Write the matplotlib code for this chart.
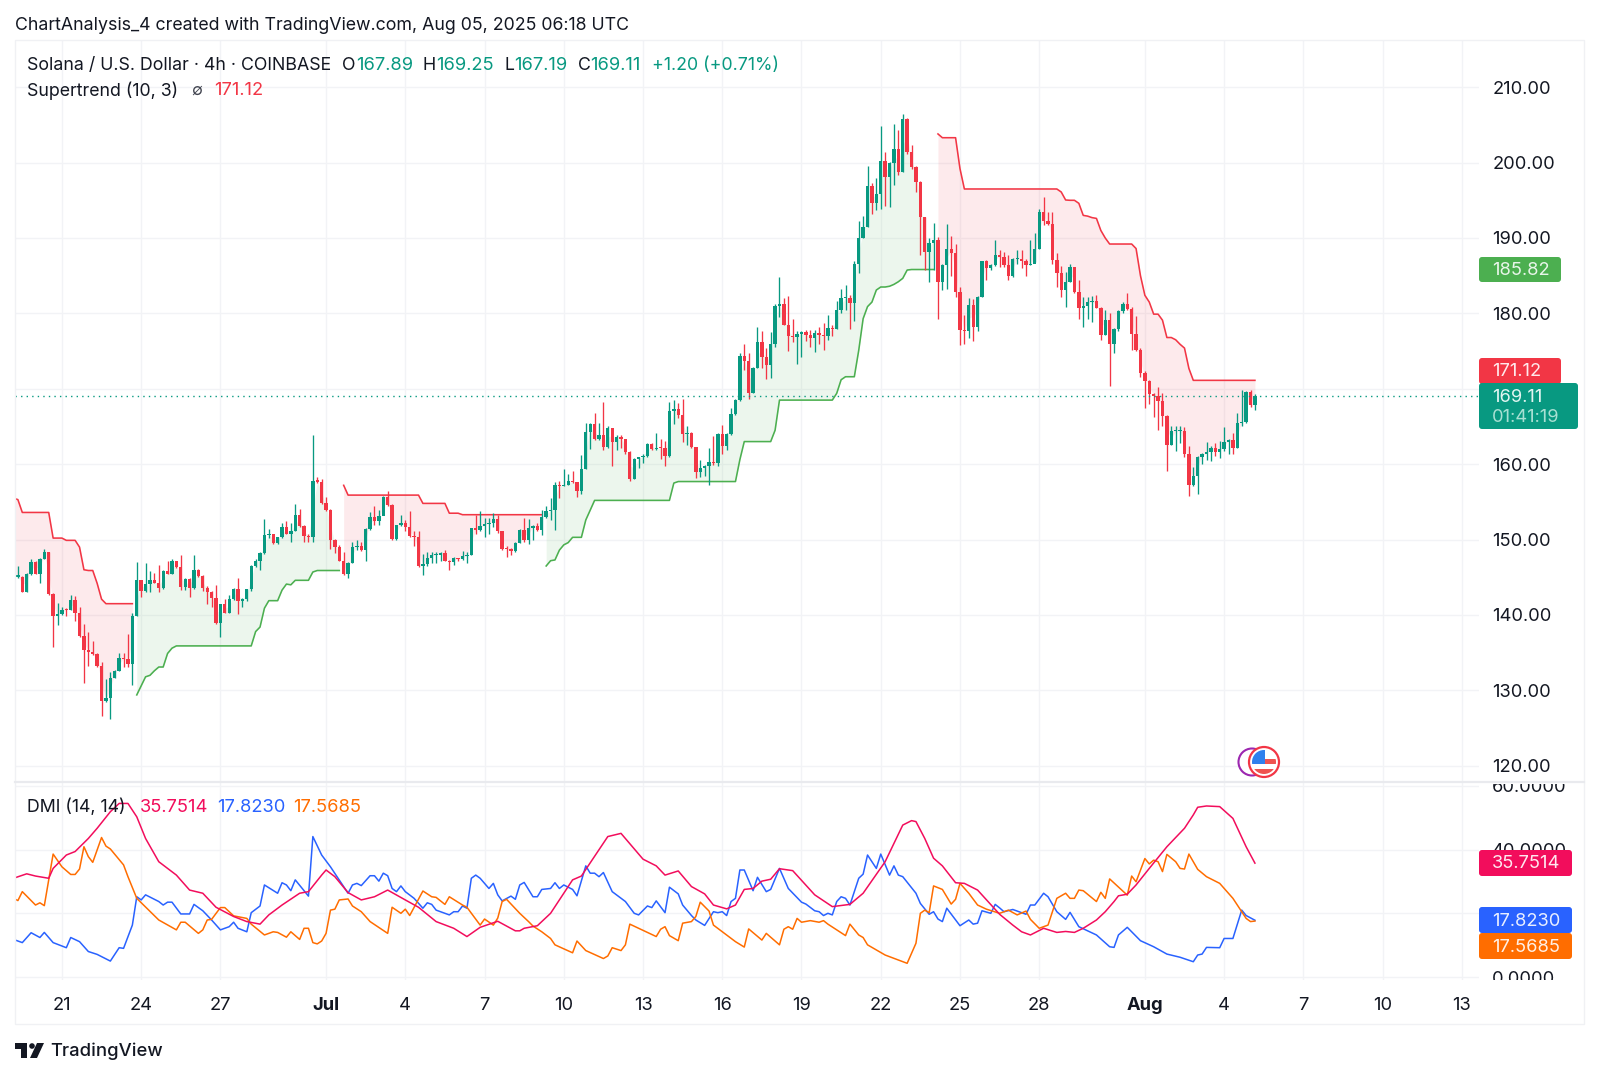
import matplotlib
matplotlib.use("Agg")
import matplotlib.pyplot as plt
from matplotlib.patches import Circle, Rectangle, FancyBboxPatch, Polygon
from matplotlib.transforms import Bbox

plt.rcParams['font.family'] = ['Inter', 'DejaVu Sans']

# ---------- candles (4h bars, bar 11 = 21 Jun 00:00) ----------
first_open = 145.0
closes = [
145.1,145.1,143.1,145.5,147.0,145.4,147.4,148.3,142.8,139.9,
140.1,140.7,140.6,142.0,140.3,137.2,135.4,135.1,134.8,133.2,
128.6,129.0,131.7,132.6,134.3,134.2,133.5,139.9,144.6,143.2,
144.1,144.6,144.3,143.6,145.9,145.5,147.1,146.3,143.7,144.8,
143.6,146.0,145.2,143.6,143.0,142.3,139.0,141.4,140.3,142.1,
143.5,141.9,142.1,143.4,146.5,147.2,148.2,150.6,150.7,149.5,
150.3,151.7,150.8,151.1,153.3,151.8,150.5,150.3,157.8,157.7,
154.8,153.9,150.0,149.0,147.2,145.4,146.9,149.0,149.2,148.6,
151.4,153.0,152.4,153.1,155.7,154.6,150.1,151.9,152.2,151.7,
150.5,150.3,146.5,146.7,147.6,148.0,148.0,148.2,147.2,147.0,
147.5,147.4,147.8,147.9,151.5,151.3,151.8,152.1,152.2,152.7,
151.1,148.8,148.7,148.5,149.6,151.3,149.9,151.6,151.8,151.3,
153.0,153.8,153.9,157.2,157.1,157.3,157.8,157.6,156.5,159.3,
164.3,165.3,163.3,163.9,162.3,164.8,162.9,163.6,163.3,161.6,
158.1,160.7,160.9,161.1,162.7,162.0,162.2,162.1,161.1,167.1,
167.3,166.5,164.0,164.2,162.3,159.0,159.5,159.8,160.3,160.2,
164.0,162.4,164.0,166.7,168.5,174.3,173.7,169.5,172.8,176.25,
174.2,173.1,175.9,181.0,181.2,178.5,177.0,176.9,177.25,177.5,
177.1,176.7,177.35,177.2,177.0,178.0,177.9,180.45,182.0,182.1,
181.4,186.6,189.95,191.5,196.9,194.7,195.8,200.2,198.1,200.0,
201.8,198.8,205.8,201.45,199.46,197.4,192.8,188.2,189.4,189.8,
184.2,186.4,188.5,188.05,182.9,177.8,177.6,181.1,178.2,182.2,
186.9,186.0,186.4,187.7,187.5,186.4,184.9,187.2,187.2,187.0,
186.4,186.6,188.6,193.4,192.3,191.9,187.1,185.3,183.1,184.2,
186.1,182.9,180.7,181.0,181.5,181.6,180.75,177.1,179.1,176.0,
177.9,180.3,181.2,180.6,177.3,175.1,172.1,171.1,169.3,169.1,
168.4,166.4,162.5,164.4,164.4,164.4,161.35,157.3,158.4,160.9,
161.35,161.6,162.1,161.6,162.0,163.0,163.2,162.2,165.5,165.6,
169.6,167.89,169.11]
highs = [
146.6,146.5,145.2,145.6,147.4,147.1,147.5,148.8,148.4,142.9,
141.6,141.1,140.9,142.6,142.5,141.0,138.8,137.8,136.5,134.9,
133.8,131.5,132.5,132.7,134.9,134.9,137.5,140.2,147.0,144.7,
146.9,145.8,145.6,146.6,146.0,147.1,147.4,147.2,148.0,144.9,
144.9,147.9,146.1,145.3,143.8,143.2,144.0,141.5,142.1,142.7,
143.6,144.9,142.2,143.5,146.6,147.4,148.4,152.7,151.4,150.8,
150.4,152.2,152.5,152.2,154.7,154.1,151.9,150.8,163.9,158.3,
158.0,155.6,154.0,150.1,149.3,148.4,147.0,149.7,149.9,149.7,
151.5,153.6,154.4,153.9,155.8,156.4,154.7,152.0,153.3,152.6,
153.8,151.1,151.2,148.1,148.4,148.4,148.4,148.4,148.6,147.3,
147.7,147.5,148.5,148.4,151.6,153.3,153.8,152.8,152.8,153.5,
153.3,151.1,149.1,148.9,149.7,151.4,152.8,152.7,151.9,152.2,
153.9,154.4,155.5,157.7,157.8,159.3,158.7,159.1,157.7,161.2,
165.4,165.4,166.8,165.4,168.2,165.1,164.8,163.9,163.9,163.4,
161.7,160.8,161.0,161.4,162.8,162.8,164.2,163.4,163.1,168.3,
168.5,168.1,168.6,165.0,164.3,162.3,160.6,159.9,162.1,163.7,
164.1,165.2,164.2,167.4,168.7,174.8,176.0,174.8,172.9,178.2,
177.6,175.4,177.5,181.2,184.8,182.0,182.3,179.2,177.7,177.7,
177.8,177.8,177.8,178.15,178.7,179.8,178.5,181.65,183.2,183.8,
182.4,187.0,192.2,192.9,199.5,197.25,197.9,204.8,201.4,200.1,
205.1,204.3,206.4,205.9,202.3,199.55,197.5,192.8,190.0,192.0,
190.1,186.6,191.85,190.2,189.2,183.5,179.8,182.1,181.9,182.3,
186.95,187.1,186.6,189.7,188.4,188.2,187.7,187.3,188.4,188.4,
187.2,189.8,190.7,193.8,195.4,193.5,193.5,187.96,186.3,185.5,
186.6,186.2,184.4,182.2,182.2,182.3,182.4,180.9,180.5,180.0,
178.0,180.5,181.55,182.66,180.9,179.65,175.4,172.3,171.2,169.4,
170.3,169.5,166.5,165.0,165.06,165.0,164.9,162.4,159.66,161.1,
161.5,162.9,162.4,162.8,163.1,164.97,163.4,164.1,166.8,169.8,
169.75,169.9,169.25]
lows = [
145.1,144.9,143.0,143.1,145.3,145.4,144.3,147.4,142.7,135.8,
138.7,140.0,139.9,140.6,139.2,137.1,131.0,133.2,134.7,133.1,
126.6,128.4,126.2,131.6,132.6,133.1,133.1,130.7,139.8,142.4,
143.1,143.1,144.2,143.0,143.5,145.4,145.4,146.2,143.3,143.3,
142.4,143.5,145.1,143.2,141.5,141.1,138.8,137.1,140.2,140.2,
142.0,140.1,141.1,141.9,143.2,146.4,146.0,148.1,150.2,149.4,
149.4,150.2,150.7,149.7,151.1,151.7,149.7,149.7,149.7,157.5,
154.7,153.8,148.8,148.2,147.1,145.3,144.9,146.9,148.6,148.5,
147.2,151.3,151.9,151.9,153.3,154.5,149.9,149.9,151.8,151.1,
150.4,149.1,146.4,145.3,146.5,146.9,146.9,147.1,147.1,146.0,
146.6,147.2,147.3,146.9,147.9,150.8,151.2,150.4,150.8,151.7,
150.9,148.6,147.7,147.9,148.4,149.5,149.7,149.4,150.0,151.1,
150.6,152.8,152.6,151.3,155.5,157.1,157.2,157.5,155.7,156.1,
159.4,162.0,163.2,163.2,161.9,162.2,159.7,161.9,162.1,161.4,
157.8,158.0,159.5,160.2,161.0,161.9,161.9,160.7,159.7,161.0,
165.3,166.1,163.0,162.5,162.1,158.2,158.3,158.4,157.2,159.9,
159.7,161.4,161.9,163.9,166.5,168.4,172.5,168.7,169.4,172.8,
172.8,171.25,171.4,175.5,179.55,178.4,175.05,176.25,173.3,174.2,
176.3,175.6,174.9,175.9,175.1,176.5,177.0,177.9,180.1,180.45,
177.9,179.0,185.3,190.0,191.4,193.2,193.7,193.8,194.2,194.1,
197.0,198.35,198.7,201.2,199.15,196.1,187.74,185.7,184.1,185.75,
179.2,183.1,183.3,184.96,182.2,175.8,176.0,176.8,176.4,177.6,
182.2,184.4,185.75,186.3,186.2,186.2,184.4,184.8,186.6,186.0,
184.9,186.4,186.8,188.5,191.7,191.7,186.6,183.5,182.2,180.8,
184.1,182.7,179.3,178.2,179.3,178.8,180.7,176.5,177.1,170.4,
174.8,177.7,180.1,180.4,175.2,175.0,171.5,167.5,168.0,166.3,
164.5,165.0,159.1,162.5,161.75,162.8,161.0,155.8,157.1,156.1,
160.0,160.6,160.4,161.1,160.8,161.8,161.4,161.4,162.1,165.06,
165.5,167.6,167.19]

# ---------- Supertrend (10, 3): runs of consecutive bars ----------
st_red_1_bars = list(range(0, 28))
st_red_1 = [155.5,155.3,153.6,153.6,153.6,153.6,153.6,153.6,153.6,150.2,150.2,150.2,149.9,149.9,149.9,
            149.0,146.0,145.9,145.9,144.2,142.1,141.5,141.5,141.5,141.5,141.5,141.5,141.5]
st_green_1_bars = list(range(28, 75))
st_green_1 = [129.4,130.6,131.8,132.0,132.6,133.1,133.1,134.9,135.6,135.9,135.9,135.9,135.9,135.9,135.9,
              135.9,135.9,135.9,135.9,135.9,135.9,135.9,135.9,135.9,135.9,135.9,135.9,137.8,138.4,140.9,
              141.9,141.9,141.9,143.3,144.1,144.0,144.6,144.6,144.6,144.6,145.7,145.9,145.9,145.9,145.9,145.9,145.9]
st_red_2_bars = list(range(75, 121))
st_red_2 = [157.2,155.9,155.9,155.9,155.9,155.9,155.9,155.9,155.9,155.9,155.9,155.9,155.9,155.9,155.9,155.9,
            155.9,155.9,154.8,154.8,154.8,154.8,154.8,154.8,153.5,153.5,153.5,153.3,153.3,153.3,153.3,153.3,
            153.3,153.3,153.3,153.3,153.3,153.3,153.3,153.3,153.3,153.3,153.3,153.3,153.3,153.3]
st_green_2_bars = list(range(121, 210))
st_green_2 = [146.5,147.2,147.3,148.6,149.3,149.6,150.3,150.3,150.3,152.6,153.9,155.2,155.2,155.2,155.2,155.2,
              155.2,155.2,155.2,155.2,155.2,155.2,155.2,155.2,155.2,155.2,155.2,155.2,155.2,157.5,157.7,157.7,
              157.7,157.7,157.7,157.7,157.7,157.7,157.7,157.7,157.7,157.7,157.7,157.7,160.6,163.0,163.0,163.0,
              163.0,163.0,163.0,163.0,164.5,168.5,168.5,168.5,168.5,168.5,168.5,168.5,168.5,168.5,168.5,168.5,
              168.5,168.5,169.4,171.2,171.6,171.6,171.6,175.1,179.3,180.9,181.5,183.1,183.5,183.5,183.6,183.85,
              184.2,184.65,185.75,185.82,185.82,185.82,185.82,185.82,185.82]
st_red_3_bars = list(range(210, 283))
st_red_3 = [203.8,203.3,203.3,203.3,203.3,199.2,196.5,196.5,196.5,196.5,196.5,196.5,196.5,196.5,196.5,196.5,
            196.5,196.5,196.5,196.5,196.5,196.5,196.5,196.5,196.5,196.5,196.5,196.5,196.1,195.04,195.0,195.0,
            194.6,193.0,192.9,192.7,192.6,191.0,190.0,189.2,189.2,189.2,189.2,189.2,189.2,188.6,185.0,182.4,
            181.5,179.9,179.9,179.1,176.8,176.8,176.5,175.9,175.4,172.7,171.12,171.12,171.12,171.12,171.12,
            171.12,171.12,171.12,171.12,171.12,171.12,171.12,171.12,171.12,171.12]

# ---------- DMI (14, 14): vertices ----------
adx_bars = [0,3,5,8,9,12,14,17,19,22,24,26,28,30,33,37,40,43,46,50,53,56,58,61,65,67,70,71,73,76,79,82,85,89,92,96,100,103,106,110,
            114,115,116,119,122,127,129,135,138,143,146,148,151,154,157,159,162,164,166,168,170,172,174,177,182,186,190,193,198,202,204,205,207,209,211,214,216,219,224,
            227,229,231,234,237,239,241,243,246,248,250,251,253,255,258,262,266,268,269,271,274,277,280,282]
adx = [31.0,32.4,31.7,31.0,34.1,38.3,39.4,43.5,46.7,51.9,54.5,54.5,50.3,43.5,36.2,32.0,27.3,26.3,21.9,19.0,17.4,16.6,19.5,22.6,26.3,26.8,32.0,33.6,31.5,26.5,24.2,25.2,27.3,24.2,21.9,17.4,15.3,12.7,15.6,17.5,
       14.5,14.5,15.3,16.1,20.0,30.5,31.7,44.1,45.1,37.0,34.9,32.0,33.3,28.4,26.1,22.6,21.4,22.6,27.5,27.8,30.1,30.7,34.0,33.4,25.8,22.1,22.8,26.3,36.2,47.7,49.1,48.8,43.5,37.3,34.9,29.6,29.4,27.3,19.7,
       16.3,14.2,13.2,15.3,14.0,14.3,14.0,15.3,17.9,20.5,23.7,25.5,26.0,28.9,34.1,40.9,46.7,50.9,53.3,53.7,53.5,49.8,40.9,35.7514]
plus_bars = [0,2,4,6,7,9,12,13,15,17,19,22,24,25,27,28,29,30,33,34,35,36,38,40,41,43,45,47,49,50,51,53,54,56,57,60,61,62,63,64,67,68,70,72,76,77,78,79,81,82,83,84,85,86,87,88,89,91,93,94,95,96,99,100,101,102,103,104,105,106,108,109,110,
             111,113,114,115,116,118,119,120,122,123,124,125,127,128,130,131,132,133,134,136,139,141,142,144,145,146,148,149,151,152,154,155,157,159,160,161,162,163,164,165,166,168,169,171,172,174,176,179,180,182,183,184,185,186,187,188,189,190,192,193,194,196,197,199,200,201,202,205,206,208,209,210,211,212,215,217,218,219,220,222,223,224,
             225,227,230,231,232,234,235,237,239,240,242,246,249,250,251,253,256,259,262,265,268,269,270,271,274,275,277,279,280,282]
plus_di = [11.8,10.8,13.9,12.4,14.0,10.8,9.2,12.4,11.1,8.0,7.1,5.0,9.2,9.0,16.3,25.2,24.2,25.8,23.7,22.6,23.5,23.5,19.8,19.8,22.8,20.8,17.9,14.8,15.8,17.2,15.3,14.2,20.2,22.3,28.9,26.3,29.6,28.9,27.1,30.5,25.4,44.1,38.3,34.6,26.3,28.9,29.4,28.7,31.8,31.8,30.1,32.6,31.8,27.8,26.8,28.6,26.8,24.7,21.6,23.3,22.8,21.0,19.5,20.5,20.5,22.3,21.6,31.0,32.0,31.0,27.8,29.4,25.8,
           23.9,25.4,24.4,28.9,29.7,25.2,25.2,27.5,27.8,29.6,27.8,28.9,27.5,25.5,34.9,32.6,32.6,31.5,32.8,26.8,23.7,20.0,19.5,22.3,21.8,23.9,20.2,28.2,26.1,22.6,19.3,17.9,16.2,20.5,20.2,20.5,19.3,23.7,24.7,33.6,33.6,27.1,31.3,26.8,27.5,34.1,27.8,23.5,22.9,20.8,20.5,19.3,20.0,19.5,23.7,25.2,24.7,22.6,31.0,32.3,38.3,34.1,38.6,32.0,34.9,32.0,31.5,26.3,23.1,19.7,20.5,18.2,17.4,21.6,16.1,17.9,16.6,16.9,20.8,20.0,22.8,21.7,
           20.5,21.2,19.7,22.6,22.6,26.3,25.2,20.5,18.1,20.3,15.8,13.2,9.5,9.3,13.2,15.6,11.4,9.5,7.2,6.2,4.8,6.9,7.2,9.3,9.2,12.1,12.1,21.0,19.3,17.8230]
minus_bars = [0,1,2,5,6,7,9,11,13,14,15,16,17,18,20,21,22,25,26,28,33,37,38,39,42,43,44,45,47,48,50,53,54,57,59,60,62,63,65,66,67,68,69,70,71,72,73,74,76,77,79,81,85,86,88,89,90,93,95,96,98,99,102,103,106,107,109,
              110,111,112,115,117,118,120,122,123,127,128,130,134,135,136,138,139,140,146,147,148,149,151,152,154,155,156,158,159,164,166,167,170,171,174,175,176,177,178,179,181,183,184,185,189,190,192,193,194,196,198,203,205,206,207,208,209,211,213,214,215,217,219,221,224,
              226,228,230,231,233,235,237,239,240,241,242,243,246,247,248,249,253,254,255,257,258,259,260,261,262,264,265,266,267,269,271,274,276,277,280,281,282]
minus_di = [24.7,24.0,26.8,22.6,23.3,22.4,38.6,34.6,32.2,32.2,33.9,40.9,37.8,36.0,43.8,41.1,40.2,35.2,31.5,24.7,17.9,14.8,17.2,17.2,13.7,14.8,17.9,18.1,21.8,21.8,19.2,18.4,16.6,13.2,14.2,14.0,12.5,14.2,11.8,15.3,15.3,10.8,10.4,11.3,13.7,21.0,21.3,24.2,24.5,22.3,20.5,17.4,13.7,21.9,20.0,21.3,19.3,27.0,25.2,25.0,22.8,25.2,22.6,21.9,16.3,18.2,16.3,
            18.5,23.7,24.4,20.0,17.4,16.0,14.2,12.1,10.1,7.6,11.3,8.3,5.8,6.6,9.2,8.3,10.1,16.6,12.7,15.0,15.8,13.0,11.4,16.9,17.4,19.0,23.5,20.7,16.3,11.1,9.4,15.1,11.6,13.7,10.1,15.0,15.8,15.0,18.4,17.2,17.7,17.2,17.7,16.6,13.0,16.6,13.2,12.4,10.1,8.5,6.9,4.3,10.6,20.0,21.0,20.2,28.6,27.5,22.9,24.4,29.4,26.3,22.6,21.3,20.0,
            21.0,19.5,20.7,18.1,15.3,16.3,24.7,26.3,24.7,24.7,27.3,27.1,23.7,26.6,24.7,30.8,25.7,31.7,29.9,37.2,35.5,36.7,36.2,33.1,38.5,36.2,34.1,33.9,38.6,33.8,31.5,29.4,26.3,24.7,18.4,17.4,17.5685]

# ---------- axes labels ----------
price_ticks = [120, 130, 140, 150, 160, 170, 180, 190, 200, 210]
price_labels = ['120.00','130.00','140.00','150.00','160.00','','180.00','190.00','200.00','210.00']
dmi_ticks = [0, 20, 40, 60]
dmi_labels = ['0.0000', '20.0000', '40.0000', '60.0000']
time_bars = [11, 29, 47, 71, 89, 107, 125, 143, 161, 179, 197, 215, 233, 257, 275, 293, 311, 329]
time_labels = ['21','24','27','Jul','4','7','10','13','16','19','22','25','28','Aug','4','7','10','13']

GREEN, RED = '#089981', '#F23645'
ST_GREEN = '#4CAF50'
ADX_C, PLUS_C, MINUS_C = '#F20D5C', '#2962FF', '#FF6D00'
GRID = '#F2F3F6'
TXT = '#131722'
FS = 12.8      # running text
NUM = 13.2     # axis and legend numbers

W, H = 1600, 1075
fig = plt.figure(figsize=(W/100, H/100), dpi=100, facecolor='white')

def axes_px(l, t, r, b, **kw):
    return fig.add_axes([l/W, 1-b/H, (r-l)/W, (b-t)/H], **kw)

ax = axes_px(15, 40, 1479, 782)
ax2 = axes_px(15, 782, 1479, 980, sharex=ax)
ov = fig.add_axes([0, 0, 1, 1], zorder=10)
ov.set_xlim(0, W); ov.set_ylim(H, 0); ov.axis('off'); ov.patch.set_alpha(0)

XLIM = (0.34, 332.9)
opens = [first_open] + closes[:-1]
bars = list(range(len(closes)))

for a in (ax, ax2):
    a.set_facecolor('white')
    for s in a.spines.values():
        s.set_visible(False)
    a.grid(True, color=GRID, lw=1.0)
    a.set_axisbelow(True)
    a.yaxis.tick_right()

ax.set_xlim(*XLIM)
ax.set_ylim(117.85, 216.26)
ax.set_yticks(price_ticks); ax.set_yticklabels(price_labels, fontsize=NUM, color=TXT)
ax.tick_params(axis='y', length=0, pad=9.5)
ax.tick_params(axis='x', length=0, labelbottom=False)

# supertrend fills and lines
mids = [(o+c)/2 for o, c in zip(opens, closes)]
for b, v, col in [(st_red_1_bars, st_red_1, RED), (st_green_1_bars, st_green_1, ST_GREEN),
                  (st_red_2_bars, st_red_2, RED), (st_green_2_bars, st_green_2, ST_GREEN),
                  (st_red_3_bars, st_red_3, RED)]:
    m = [mids[i] for i in b]
    ax.fill_between(b, v, m, color=col, alpha=0.10, lw=0, zorder=1)
    ax.plot(b, v, color=col, lw=1.15, zorder=2, solid_joinstyle='round')

# candles
for i, (o, h, l, c) in enumerate(zip(opens, highs, lows, closes)):
    col = GREEN if c >= o else RED
    ax.vlines(i, l, h, color=col, lw=0.95, zorder=3)
    ax.bar(i, max(abs(c-o), 0.14), bottom=min(o, c), width=0.76, color=col, lw=0, zorder=4)

ax.axhline(closes[-1], color=GREEN, lw=1.0, ls=(0, (1, 3)), zorder=5)

# DMI
ax2.set_ylim(-0.94, 61.23)
ax2.set_yticks(dmi_ticks); ax2.set_yticklabels(dmi_labels, fontsize=NUM, color=TXT)
ax2.tick_params(axis='y', length=0, pad=9.5)
ax2.plot(plus_bars, plus_di, color=PLUS_C, lw=1.1, zorder=3)
ax2.plot(minus_bars, minus_di, color=MINUS_C, lw=1.1, zorder=4)
ax2.plot(adx_bars, adx, color=ADX_C, lw=1.1, zorder=5)
ax2.set_xticks(time_bars); ax2.set_xticklabels(time_labels, fontsize=NUM, color=TXT)
ax2.tick_params(axis='x', length=0, pad=12)
for t in ax2.get_xticklabels():
    if t.get_text() in ('Jul', 'Aug'):
        t.set_fontweight('bold')
# price-axis labels of the lower pane are cut by the pane edges
clip = Bbox([[1480, H-980], [1590, H-784]])
for t in ax2.yaxis.get_major_ticks():
    t.label2.set_clip_box(clip); t.label2.set_clip_on(True)

# ---------- chrome in pixel coordinates ----------
def txt(x, y, s, color=TXT, fs=FS, **kw):
    ov.text(x, y, s, color=color, fontsize=fs, va='center', ha=kw.pop('ha', 'left'), **kw)

def tag(l, t, r, b, col):
    ov.add_patch(FancyBboxPatch((l, t), r-l, b-t, boxstyle='round,pad=0,rounding_size=3', fc=col, ec='none', zorder=3))

ov.add_patch(Rectangle((15, 40), 1569, 984, fc='none', ec='#F0F1F4', lw=1.0))
ov.plot([15, 1584], [782, 782], color='#E9EAEE', lw=1.6)

txt(15, 25, 'ChartAnalysis_4 created with TradingView.com, Aug 05, 2025 06:18 UTC')
txt(27, 65.5, 'Solana / U.S. Dollar · 4h · COINBASE')
for x, s, c in [(342, 'O', TXT), (356, '167.89', GREEN), (423, 'H', TXT), (436, '169.25', GREEN),
                (505, 'L', TXT), (514, '167.19', GREEN), (578, 'C', TXT), (590, '169.11', GREEN),
                (652, '+1.20 (+0.71%)', GREEN)]:
    txt(x, 65.5, s, c, fs=NUM if s[0].isdigit() else FS)
txt(27, 90.5, 'Supertrend (10, 3)')
txt(191, 90.5, '∅', '#434651', fs=11.5)
txt(214, 90.5, '171.12', RED, fs=NUM)
txt(27, 807.5, 'DMI (14, 14)')
txt(140, 807.5, '35.7514', ADX_C, fs=NUM)
txt(217, 807.5, '17.8230', PLUS_C, fs=NUM)
txt(293, 807.5, '17.5685', MINUS_C, fs=NUM)

tag(1479, 257, 1561, 282, ST_GREEN); txt(1492, 270.5, '185.82', '#E8F5E9', fs=NUM)
tag(1479, 358, 1561, 384, RED);      txt(1492, 371.5, '171.12', '#FFE9EB', fs=NUM)
tag(1479, 383, 1578, 429, GREEN);    txt(1492, 397, '169.11', '#E2F5F1', fs=NUM)
txt(1492, 418, '01:41:19', '#A8E0D3', fs=NUM)
tag(1479, 850, 1572, 876, ADX_C);    txt(1492, 864, '35.7514', '#FFE8EF', fs=NUM)
tag(1479, 907, 1572, 933, PLUS_C);   txt(1492, 921.5, '17.8230', '#E8EEFF', fs=NUM)
tag(1479, 933, 1572, 959, MINUS_C);  txt(1492, 947.5, '17.5685', '#FFF0E5', fs=NUM)

# economic-event icon
ov.add_patch(Circle((1252, 762), 13.5, fc='white', ec='#9C27B0', lw=1.5))
ov.add_patch(Circle((1264, 762), 15, fc='white', ec=RED, lw=1.6))
inner = Circle((1264, 762), 12, fc='white', ec='none')
ov.add_patch(inner)
for (x, y, w, h, c) in [(1251, 749, 14, 15, '#2F80ED'), (1265, 759, 13, 5, '#EF5350'), (1250, 769, 28, 6, '#EF5350')]:
    r = Rectangle((x, y), w, h, fc=c, ec='none')
    ov.add_patch(r); r.set_clip_path(inner)

# TradingView logo
ov.add_patch(Polygon([(15, 1043), (27, 1043), (27, 1058), (21, 1058), (21, 1049), (15, 1049)], fc=TXT, ec='none'))
ov.add_patch(Circle((32, 1046), 2.8, fc=TXT, ec='none'))
ov.add_patch(Polygon([(37, 1043), (44, 1043), (37, 1058), (30, 1058)], fc=TXT, ec='none'))
txt(50, 1051, 'TradingView', TXT, fs=13.3, fontweight='medium')

fig.savefig('out.png', dpi=100, facecolor='white')
